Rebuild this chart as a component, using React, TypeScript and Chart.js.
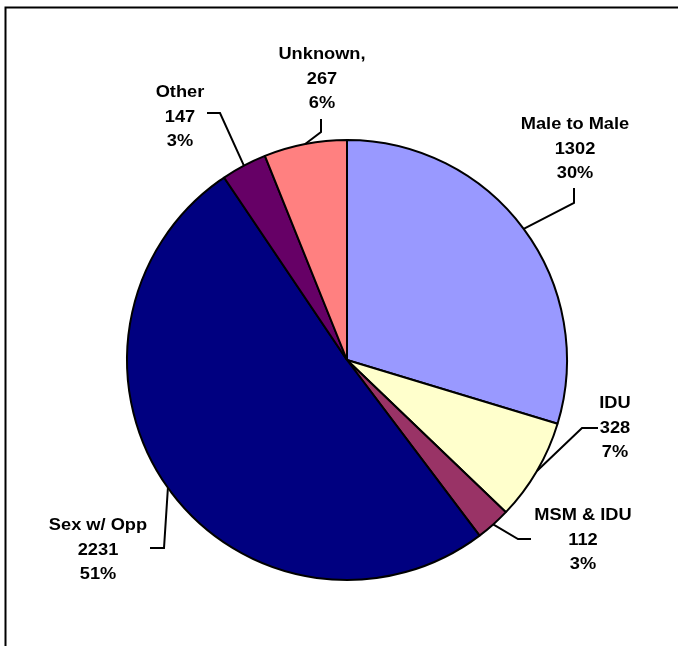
import React, { useEffect, useRef } from "react";
import { Chart, registerables } from "chart.js";

Chart.register(...registerables);

// ---- Data ----
const categories = ["Male to Male", "IDU", "MSM & IDU", "Sex w/ Opp", "Other", "Unknown"];
const labelTitles = ["Male to Male", "IDU", "MSM & IDU", "Sex w/ Opp", "Other", "Unknown,"];
const cases = [1302, 328, 112, 2231, 147, 267];
const sliceColors = ["#9999FF", "#FFFFCC", "#993366", "#000080", "#660066", "#FF8080"];

// ---- Label layout (positions only) ----
const labelCenters = [
  { x: 575, y: 129 },
  { x: 615, y: 408 },
  { x: 583, y: 520 },
  { x: 98, y: 530 },
  { x: 180, y: 97 },
  { x: 322, y: 59 },
];
const leaderElbows = [
  { x: 574, y: 203 },
  { x: 582, y: 428 },
  { x: 518, y: 539 },
  { x: 164, y: 548 },
  { x: 220, y: 113 },
  { x: 321, y: 132 },
];
const leaderEnds = [
  { x: 574, y: 188 },
  { x: 598, y: 428 },
  { x: 531, y: 539 },
  { x: 150, y: 548 },
  { x: 207, y: 113 },
  { x: 321, y: 119 },
];

const FONT = 'bold 16px "Liberation Sans", Arial, sans-serif';
const LINE_H = 24.5;
const STRETCH = 1.14;

const labelPlugin = {
  id: "pieLabels",
  afterDraw(chart: any) {
    const ctx = chart.ctx as CanvasRenderingContext2D;
    const meta = chart.getDatasetMeta(0);
    const values: number[] = chart.data.datasets[0].data;
    const total = values.reduce((a, b) => a + b, 0);

    // frame
    ctx.save();
    ctx.strokeStyle = "#000";
    ctx.lineWidth = 2;
    ctx.beginPath();
    ctx.moveTo(5.5, 646);
    ctx.lineTo(5.5, 7.5);
    ctx.lineTo(678, 7.5);
    ctx.stroke();
    ctx.restore();

    meta.data.forEach((arc: any, i: number) => {
      const p = arc.getProps(["x", "y", "startAngle", "endAngle", "outerRadius"], true);
      const mid = (p.startAngle + p.endAngle) / 2;
      const ex = p.x + Math.cos(mid) * p.outerRadius;
      const ey = p.y + Math.sin(mid) * p.outerRadius;

      ctx.save();
      ctx.strokeStyle = "#000";
      ctx.lineWidth = 2;
      ctx.lineJoin = "miter";
      ctx.beginPath();
      ctx.moveTo(ex, ey);
      ctx.lineTo(leaderElbows[i].x, leaderElbows[i].y);
      ctx.lineTo(leaderEnds[i].x, leaderEnds[i].y);
      ctx.stroke();
      ctx.restore();

      const pct = Math.round((values[i] / total) * 100) + "%";
      const lines = [labelTitles[i], String(values[i]), pct];
      ctx.save();
      ctx.font = FONT;
      ctx.fillStyle = "#000";
      ctx.textAlign = "center";
      ctx.textBaseline = "alphabetic";
      lines.forEach((t, k) => {
        ctx.save();
        ctx.translate(labelCenters[i].x, labelCenters[i].y + k * LINE_H);
        ctx.scale(STRETCH, 1);
        ctx.fillText(t, 0, 0);
        ctx.restore();
      });
      ctx.restore();
    });
  },
};

export default function App() {
  const ref = useRef<HTMLCanvasElement | null>(null);
  useEffect(() => {
    if (!ref.current) return;
    const chart = new Chart(ref.current, {
      type: "pie",
      data: {
        labels: categories,
        datasets: [
          {
            data: cases,
            backgroundColor: sliceColors,
            borderColor: "#000",
            borderWidth: 2,
          },
        ],
      },
      options: {
        animation: false,
        responsive: false,
        maintainAspectRatio: false,
        layout: { padding: { left: 126, right: 110, top: 139, bottom: 65 } },
        plugins: {
          legend: { display: false },
          tooltip: { enabled: false },
        },
      },
      plugins: [labelPlugin],
    });
    return () => chart.destroy();
  }, []);
  return (
    <div style={{ position: "fixed", left: 0, top: 0, width: 678, height: 646, background: "#fff" }}>
      <canvas ref={ref} width={678} height={646} style={{ display: "block", width: 678, height: 646 }} />
    </div>
  );
}
